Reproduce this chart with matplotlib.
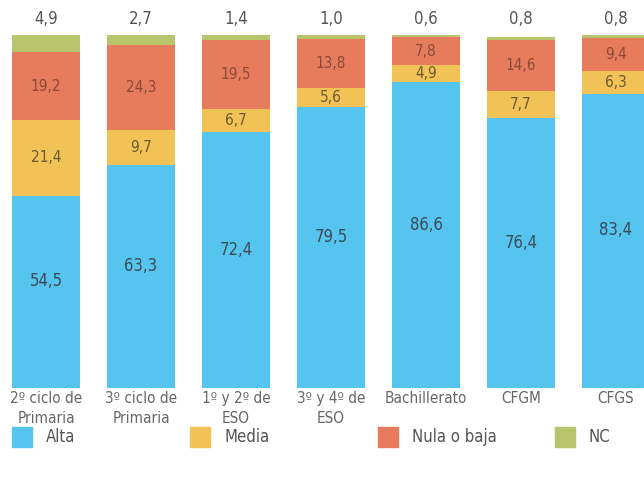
import matplotlib.pyplot as plt
from matplotlib.patches import Rectangle

plt.rcParams['font.family'] = ['DejaVu Sans']
plt.rcParams['font.stretch'] = 'condensed'

categorias = ["2º ciclo de\nPrimaria", "3º ciclo de\nPrimaria", "1º y 2º de\nESO",
              "3º y 4º de\nESO", "Bachillerato", "CFGM", "CFGS"]
alta = [54.5, 63.3, 72.4, 79.5, 86.6, 76.4, 83.4]
media = [21.4, 9.7, 6.7, 5.6, 4.9, 7.7, 6.3]
nula = [19.2, 24.3, 19.5, 13.8, 7.8, 14.6, 9.4]
nc = [4.9, 2.7, 1.4, 1.0, 0.6, 0.8, 0.8]

series = ["Alta", "Media", "Nula o baja", "NC"]
colores = ["#55c5ef", "#f1c255", "#e77c5c", "#b9c56c"]

def fmt(v):
    return f"{v:.1f}".replace(".", ",")

fig = plt.figure(figsize=(6.44, 4.82), dpi=100)
ax = fig.add_axes([0, 1 - 388 / 482, 1, (388 - 35) / 482])

x = list(range(len(categorias)))
ancho = 0.72
base = [0] * len(x)
for vals, col in zip([alta, media, nula, nc], colores):
    ax.bar(x, vals, ancho, bottom=base, color=col, edgecolor='none')
    base = [b + v for b, v in zip(base, vals)]

# etiquetas dentro de las barras
for i in x:
    ax.text(i, alta[i] / 2 + 3, fmt(alta[i]), ha='center', va='center', fontsize=12, color='#3b4a55')
    ax.text(i, alta[i] + media[i] / 2, fmt(media[i]), ha='center', va='center', fontsize=11, color='#6a5a30')
    ax.text(i, alta[i] + media[i] + nula[i] / 2, fmt(nula[i]), ha='center', va='center', fontsize=11, color='#8a4a3a')
    ax.text(i, 102, fmt(nc[i]), ha='center', va='bottom', fontsize=12, color='#555555')

ax.set_xlim(-46 / 95, (644 - 46) / 95)
ax.set_ylim(0, 100)
ax.set_xticks(x)
ax.set_xticklabels(categorias, fontsize=11, color='#666666', linespacing=1.4)
ax.tick_params(axis='x', length=0, pad=2)
ax.set_yticks([])
for s in ax.spines.values():
    s.set_visible(False)

# leyenda
leg_x = [12, 190, 378, 555]
for px, nombre, col in zip(leg_x, series, colores):
    fig.add_artist(Rectangle((px / 644, 1 - 447 / 482), 20 / 644, 20 / 482,
                             transform=fig.transFigure, color=col))
    fig.text((px + 34) / 644, 1 - 437 / 482, nombre, ha='left', va='center',
             fontsize=12, color='#555555')

fig.savefig("out.png", dpi=100)
